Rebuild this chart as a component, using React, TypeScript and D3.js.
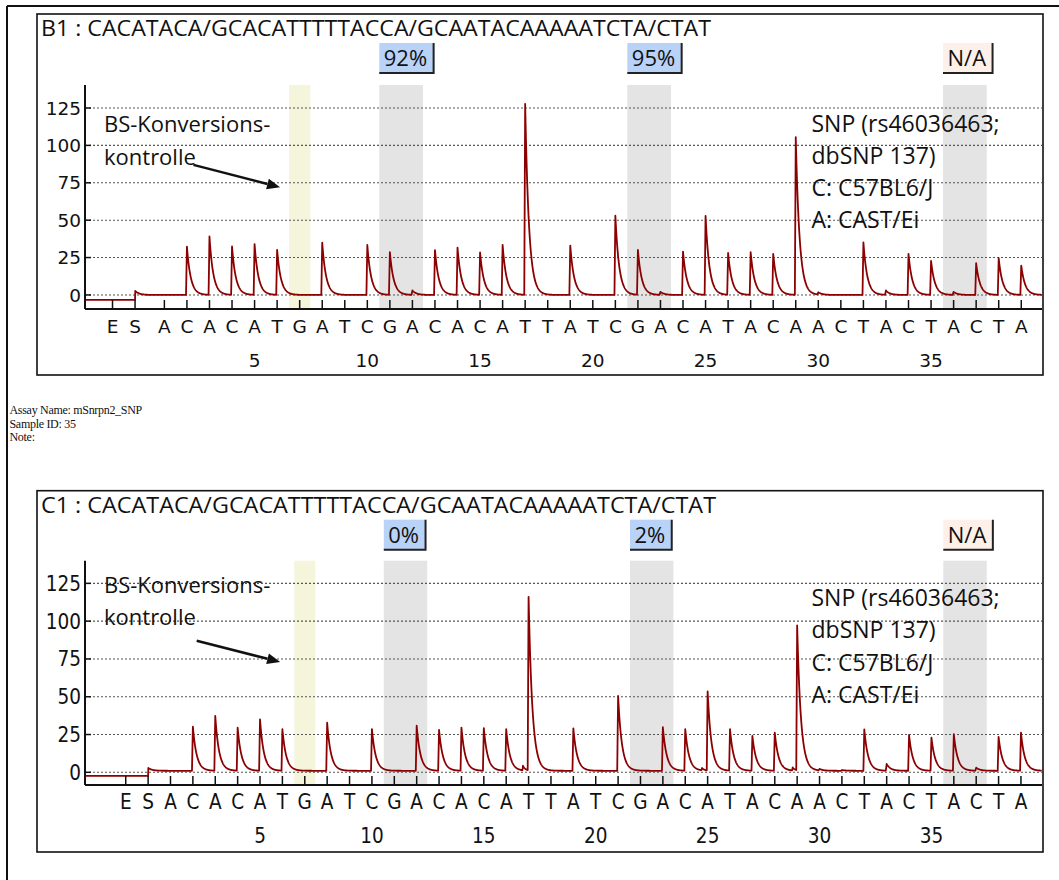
import React from "react";
import * as d3 from "d3";

// Dispensation order of the pyrosequencing run (after enzyme E and substrate S)
const DISPENSATIONS = [
  "A", "C", "A", "C", "A", "T", "G", "A", "T", "C",
  "G", "A", "C", "A", "C", "A", "T", "T", "A", "T",
  "C", "G", "A", "C", "A", "T", "A", "C", "A", "A",
  "C", "T", "A", "C", "T", "A", "C", "T", "A",
];
const PRE_DISPENSATIONS = ["E", "S"];
const POSITION_TICKS = [5, 10, 15, 20, 25, 30, 35];
const Y_TICKS = [0, 25, 50, 75, 100, 125];
const SEQUENCE = "CACATACA/GCACATTTTTACCA/GCAATACAAAAATCTA/CTAT";

// Peak heights per dispensation (light units)
const B1_PEAKS = [
  0, 32.3, 39, 32.3, 33.9, 30, 0, 35, 0, 33.4,
  28.5, 3, 30, 31.6, 28.3, 33.4, 127.7, 0, 33, 0,
  53, 30, 2, 29, 52.8, 27.9, 28.5, 27.4, 105.4, 1.5,
  0, 35.2, 2.9, 27.4, 22.7, 2, 21.2, 24.5, 19.6,
];
const C1_PEAKS = [
  0, 30.2, 37.2, 29.5, 35, 28.4, 0, 32.8, 0, 28.6,
  0, 30.8, 28, 29.5, 29.1, 28.4, 115.7, 0, 29.1, 0,
  50.5, 0, 29.8, 28.4, 53.3, 28.4, 24, 26.2, 96.8, 2,
  1.5, 28.4, 5.5, 24.7, 22.9, 25.1, 3, 23.5, 26.2,
];
// Small pre-signals just ahead of some dispensations: [position, height]
const B1_SHOULDERS: [number, number][] = [];
const C1_SHOULDERS: [number, number][] = [[16.75, 4], [24.75, 2.5], [28.8, 3]];

// Analysed positions: [first dispensation, last dispensation]
const CONTROL_SITE = [7, 7];
const VARIABLE_SITES = [[11, 12], [22, 23], [36, 37]];
const B1_RESULTS = ["92%", "95%", "N/A"];
const C1_RESULTS = ["0%", "2%", "N/A"];

const SNP_NOTE = ["SNP (rs46036463;", "dbSNP 137)", "C: C57BL6/J", "A: CAST/Ei"];
const BS_NOTE = ["BS-Konversions-", "kontrolle"];
const ASSAY_INFO = ["Assay Name: mSnrpn2_SNP", "Sample ID: 35", "Note:"];

const W = 1059;
const H = 880;
const PANEL_LEFT = 37;
const PANEL_RIGHT = 1043;
const PLOT_LEFT = 85;
const PLOT_RIGHT = 1042;
const RED = "#8b0000";
const AXIS_FONT = "'DejaVu Sans', Verdana, sans-serif";
const TEXT_FONT = "'Open Sans', 'Noto Sans', sans-serif";

const panels = [
  {
    name: "B1",
    peaks: B1_PEAKS,
    shoulders: B1_SHOULDERS,
    results: B1_RESULTS,
    boxTop: 14,
    boxBottom: 375,
    plotTop: 85,
    plotBottom: 309,
    xDomain: [-2.52, 39.92],
    yDomain: [-9.4, 140.4],
    preSlots: [-1.3, -0.3],
    preBase: -3.3,
    base: 0,
    sPeak: 2.9,
    titleLen: 670,
    axisScaleY: 1,
    bsY: [109, 87],
    arrow: [[2.29, 87], [6.13, 72]],
    snpY: 109.3,
  },
  {
    name: "C1",
    peaks: C1_PEAKS,
    shoulders: C1_SHOULDERS,
    results: C1_RESULTS,
    boxTop: 490.7,
    boxBottom: 852,
    plotTop: 560.7,
    plotBottom: 785,
    xDomain: [-2.82, 39.94],
    yDomain: [-8.4, 140],
    preSlots: [-1, 0],
    preBase: -2.4,
    base: 1,
    sPeak: 3,
    titleLen: 675,
    axisScaleY: 1.12,
    bsY: [118.4, 97.4],
    arrow: [[2.17, 87], [5.9, 73]],
    snpY: 110,
  },
];

// Shape of one light signal: near-vertical rise, exponential decay
const RISE = 0.04;
const TAU = 0.17;
function pulse(d: number) {
  if (d < -RISE) return 0;
  if (d < 0) return 1 + d / RISE;
  return Math.exp(-d / TAU);
}

function buildTrace(p: any): [number, number][] {
  const sPos = p.preSlots[1];
  const pts: [number, number][] = [];
  const [x0, x1] = p.xDomain;
  const step = 0.01;
  for (let x = x0; x <= x1; x += step) {
    let v: number;
    if (x < sPos) v = p.preBase;
    else {
      v = p.base + (p.sPeak - p.base) * pulse(x - sPos);
      p.peaks.forEach((h: number, i: number) => {
        if (h > p.base) v += (h - p.base) * pulse(x - (i + 1));
      });
      p.shoulders.forEach(([pos, h]: [number, number]) => {
        v += (h - p.base) * pulse((x - pos) * 1.6);
      });
    }
    pts.push([x, v]);
  }
  return pts;
}

let measureCtx: CanvasRenderingContext2D | null = null;
function textWidth(s: string, font: string) {
  if (!measureCtx) measureCtx = document.createElement("canvas").getContext("2d");
  if (!measureCtx) return s.length * 12;
  measureCtx.font = font;
  return measureCtx.measureText(s).width;
}

function Panel({ p }: { p: any }) {
  const x = d3.scaleLinear().domain(p.xDomain).range([PLOT_LEFT, PLOT_RIGHT]);
  const y = d3.scaleLinear().domain(p.yDomain).range([p.plotBottom, p.plotTop]);
  const stepPx = x(1) - x(0);
  const half = 0.47 * stepPx;
  const trace = buildTrace(p);
  const line = d3.line<[number, number]>().x((d) => x(d[0])).y((d) => y(d[1]));
  const axisY = p.plotBottom;

  const slots = [
    ...PRE_DISPENSATIONS.map((l, i) => ({ label: l, pos: p.preSlots[i] })),
    ...DISPENSATIONS.map((l, i) => ({ label: l, pos: i + 1 })),
  ];

  const [a0, a1] = p.arrow;
  const ax0 = x(a0[0]), ay0 = y(a0[1]), ax1 = x(a1[0]), ay1 = y(a1[1]);
  const ang = Math.atan2(ay1 - ay0, ax1 - ax0);
  const headL = 13, headW = 5.5;
  const bx = ax1 - headL * Math.cos(ang), by = ay1 - headL * Math.sin(ang);
  const head = [
    [ax1, ay1],
    [bx + headW * Math.sin(ang), by - headW * Math.cos(ang)],
    [bx - headW * Math.sin(ang), by + headW * Math.cos(ang)],
  ];

  const resultFont = `22px ${TEXT_FONT}`;
  const snpStep = 21.4;

  return (
    <g>
      {/* panel frame */}
      <rect x={PANEL_LEFT} y={p.boxTop} width={PANEL_RIGHT - PANEL_LEFT} height={p.boxBottom - p.boxTop}
        fill="white" stroke="#111" strokeWidth={1.6} />
      <text x={41} y={p.boxTop + 22} fontFamily={TEXT_FONT} fontSize={21} fill="#111"
        textLength={p.titleLen} lengthAdjust="spacingAndGlyphs">
        {`${p.name} : ${SEQUENCE}`}
      </text>

      {/* highlighted dispensations */}
      <rect x={x(CONTROL_SITE[0]) - half} y={p.plotTop} width={x(CONTROL_SITE[1]) - x(CONTROL_SITE[0]) + 2 * half}
        height={axisY - p.plotTop} fill="#f5f5dc" />
      {VARIABLE_SITES.map(([s, e], i) => (
        <rect key={i} x={x(s) - half} y={p.plotTop} width={x(e) - x(s) + 2 * half}
          height={axisY - p.plotTop} fill="#e4e4e4" />
      ))}

      {/* methylation results */}
      {VARIABLE_SITES.map(([s], i) => {
        const label = p.results[i];
        const tw = textWidth(label, resultFont);
        const bx0 = x(s) - half;
        const bw = tw + 11;
        const by0 = p.boxTop + 29;
        const bh = 30;
        const na = label === "N/A";
        return (
          <g key={i}>
            <rect x={bx0} y={by0} width={bw} height={bh} fill={na ? "#fdf0e8" : "#b9d2f8"} />
            <path d={`M${bx0 + bw},${by0} V${by0 + bh} H${bx0}`} fill="none" stroke="#222" strokeWidth={2} />
            <text x={bx0 + bw / 2 - 1} y={by0 + 23} textAnchor="middle" fontFamily={TEXT_FONT}
              fontSize={22} fill="#111">{label}</text>
          </g>
        );
      })}

      {/* grid */}
      {Y_TICKS.map((t) => (
        <g key={t}>
          <line x1={PLOT_LEFT} x2={PLOT_RIGHT} y1={y(t)} y2={y(t)} stroke="#555" strokeWidth={1.1}
            strokeDasharray="2,2" />
          <line x1={PLOT_LEFT} x2={PLOT_LEFT + 6} y1={y(t)} y2={y(t)} stroke="#111" strokeWidth={1.5} />
          <text transform={`translate(81,${y(t)}) scale(1,${p.axisScaleY})`} dy="0.36em" textAnchor="end"
            fontFamily={AXIS_FONT} fontSize={18.5} fill="#111">{t}</text>
        </g>
      ))}

      {/* notes */}
      {BS_NOTE.map((s, i) => (
        <text key={i} x={104} y={y(p.bsY[i])} fontFamily={TEXT_FONT} fontSize={22} fill="#111">{s}</text>
      ))}
      <line x1={ax0} y1={ay0} x2={bx} y2={by} stroke="#111" strokeWidth={2.5} />
      <polygon points={head.map((q) => q.join(",")).join(" ")} fill="#111" />
      {SNP_NOTE.map((s, i) => (
        <text key={i} x={811.5} y={y(p.snpY - i * snpStep)} fontFamily={TEXT_FONT} fontSize={23}
          fill="#111">{s}</text>
      ))}

      {/* pyrogram trace */}
      <path d={line(trace) || ""} fill="none" stroke={RED} strokeWidth={1.8} strokeLinejoin="round" />

      {/* axes */}
      <line x1={PLOT_LEFT} x2={PLOT_LEFT} y1={p.plotTop} y2={axisY} stroke="#111" strokeWidth={2} />
      <line x1={PLOT_LEFT} x2={PLOT_RIGHT} y1={axisY} y2={axisY} stroke="#111" strokeWidth={2} />
      {slots.map((s, i) => (
        <g key={i}>
          <line x1={x(s.pos)} x2={x(s.pos)} y1={axisY - 9} y2={axisY} stroke="#111" strokeWidth={1.5} />
          <text transform={`translate(${x(s.pos)},${axisY + 23.5}) scale(1,${p.axisScaleY})`} textAnchor="middle"
            fontFamily={AXIS_FONT} fontSize={18.5} fill="#111">{s.label}</text>
        </g>
      ))}
      {POSITION_TICKS.map((t) => (
        <text key={t} transform={`translate(${x(t)},${axisY + 58}) scale(1,${p.axisScaleY})`} textAnchor="middle"
          fontFamily={AXIS_FONT} fontSize={18.5} fill="#111">{t}</text>
      ))}
    </g>
  );
}

export default function App() {
  return (
    <svg width={W} height={H} viewBox={`0 0 ${W} ${H}`}
      style={{ position: "absolute", left: 0, top: 0, background: "white", display: "block" }}>
      <rect x={0} y={0} width={W} height={H} fill="white" />
      <line x1={7} x2={W} y1={6} y2={6} stroke="#111" strokeWidth={2} />
      <line x1={7} x2={7} y1={6} y2={H} stroke="#111" strokeWidth={2} />
      {panels.map((p) => <Panel key={p.name} p={p} />)}
      {ASSAY_INFO.map((s, i) => (
        <text key={i} x={9.5} y={414 + i * 13.5} fontFamily="'Liberation Serif', 'Times New Roman', serif"
          fontSize={12} fill="#111" letterSpacing={-0.3}>{s}</text>
      ))}
    </svg>
  );
}
